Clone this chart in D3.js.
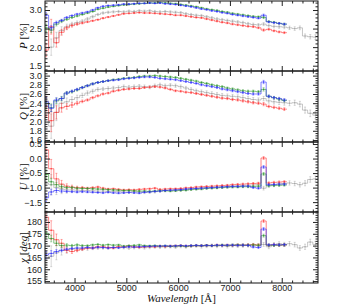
<!DOCTYPE html>
<html>
<head>
<meta charset="utf-8">
<script src="https://cdn.jsdelivr.net/npm/d3@7"></script>
<style>
  body { margin: 0; background: #fff; }
  #svg-container { width: 354px; height: 307px; }
  svg { display: block; font-family: "DejaVu Sans", sans-serif; }
  .tick text { font-size: 9px; fill: #222; }
  .tick line { stroke: #222; }
  .lbl { font-family: "Liberation Serif", serif; font-size: 11px; fill: #111; }
</style>
</head>
<body>
<div id="svg-container"></div>
<script>
////////////////////////////////////////////////////////////////////
////////////////////////////  Data  ////////////////////////////////
// bin centres [Å], 100 Å bins
const waveGray = [3450, 3550, 3650, 3750, 3850, 3950, 4050, 4150, 4250, 4350,
  4450, 4550, 4650, 4750, 4850, 4950, 5050, 5150, 5250, 5350,
  5450, 5550, 5650, 5750, 5850, 5950, 6050, 6150, 6250, 6350,
  6450, 6550, 6650, 6750, 6850, 6950, 7050, 7150, 7250, 7350,
  7450, 7550, 7650, 7750, 7850, 7950, 8050, 8150, 8250, 8350,
  8450, 8550, 8650];
const waveColor = waveGray.slice(0, 47);

// P [%]
const pBlue = [2.86, 2.52, 2.66, 2.72, 2.80, 2.85, 2.89, 2.92, 2.95, 3.00,
  3.06, 3.10, 3.12, 3.13, 3.14, 3.16, 3.16, 3.17, 3.18, 3.18,
  3.19, 3.18, 3.19, 3.17, 3.16, 3.15, 3.13, 3.11, 3.09, 3.06,
  3.03, 3.01, 2.98, 2.96, 2.93, 2.91, 2.88, 2.86, 2.84, 2.82,
  2.80, 2.78, 2.86, 2.68, 2.66, 2.64, 2.62];
const pGreen = [2.52, 2.46, 2.62, 2.70, 2.75, 2.80, 2.84, 2.88, 2.92, 2.96,
  3.02, 3.05, 3.08, 3.10, 3.12, 3.14, 3.15, 3.16, 3.17, 3.18,
  3.19, 3.19, 3.20, 3.19, 3.18, 3.17, 3.15, 3.13, 3.11, 3.09,
  3.06, 3.03, 3.01, 2.99, 2.96, 2.94, 2.91, 2.89, 2.87, 2.85,
  2.83, 2.82, 2.80, 2.69, 2.67, 2.64, 2.62];
const pRed = [1.92, 2.55, 2.12, 2.40, 2.52, 2.58, 2.62, 2.65, 2.68, 2.71,
  2.74, 2.78, 2.81, 2.84, 2.87, 2.90, 2.91, 2.92, 2.93, 2.92,
  2.92, 2.91, 2.90, 2.89, 2.88, 2.86, 2.86, 2.84, 2.82, 2.80,
  2.79, 2.76, 2.73, 2.70, 2.67, 2.65, 2.62, 2.60, 2.58, 2.56,
  2.55, 2.52, 2.46, 2.48, 2.44, 2.41, 2.39];
const pGray = [2.35, 2.00, 2.25, 2.45, 2.55, 2.62, 2.66, 2.70, 2.76, 2.82,
  2.88, 2.92, 2.94, 2.95, 2.96, 2.95, 2.97, 2.96, 2.98, 2.97,
  2.98, 2.96, 2.95, 2.96, 2.95, 2.94, 2.93, 2.90, 2.88, 2.86,
  2.85, 2.82, 2.79, 2.76, 2.74, 2.72, 2.70, 2.68, 2.66, 2.63,
  2.61, 2.60, 2.62, 2.58, 2.56, 2.55, 2.54, 2.52, 2.50, 2.52,
  2.30, 2.28, 2.27];

// Q [%]
const qBlue = [2.43, 2.29, 2.47, 2.50, 2.62, 2.66, 2.70, 2.74, 2.78, 2.82,
  2.85, 2.87, 2.89, 2.90, 2.91, 2.93, 2.94, 2.95, 2.96, 2.97,
  2.97, 2.96, 2.94, 2.93, 2.92, 2.91, 2.89, 2.87, 2.85, 2.83,
  2.80, 2.78, 2.76, 2.74, 2.71, 2.69, 2.67, 2.65, 2.63, 2.61,
  2.60, 2.60, 2.86, 2.55, 2.52, 2.50, 2.47];
const qGreen = [2.40, 2.30, 2.45, 2.50, 2.62, 2.65, 2.69, 2.74, 2.78, 2.82,
  2.85, 2.87, 2.89, 2.91, 2.92, 2.94, 2.95, 2.96, 2.98, 2.99,
  2.99, 3.00, 2.99, 2.98, 2.97, 2.96, 2.94, 2.92, 2.90, 2.88,
  2.85, 2.83, 2.80, 2.78, 2.76, 2.73, 2.71, 2.69, 2.67, 2.66,
  2.66, 2.65, 2.70, 2.55, 2.52, 2.49, 2.46];
const qRed = [2.33, 2.02, 2.20, 2.30, 2.33, 2.36, 2.40, 2.44, 2.47, 2.52,
  2.56, 2.60, 2.62, 2.66, 2.68, 2.70, 2.71, 2.72, 2.72, 2.74,
  2.75, 2.76, 2.75, 2.73, 2.70, 2.67, 2.66, 2.64, 2.63, 2.61,
  2.59, 2.57, 2.55, 2.53, 2.51, 2.50, 2.48, 2.47, 2.45, 2.43,
  2.41, 2.40, 2.38, 2.33, 2.31, 2.29, 2.27];
const qGray = [2.45, 1.90, 2.20, 2.40, 2.43, 2.48, 2.52, 2.57, 2.62, 2.66,
  2.70, 2.71, 2.72, 2.73, 2.74, 2.76, 2.75, 2.76, 2.77, 2.76,
  2.75, 2.78, 2.80, 2.78, 2.79, 2.78, 2.76, 2.73, 2.70, 2.67,
  2.65, 2.63, 2.61, 2.59, 2.57, 2.56, 2.55, 2.54, 2.52, 2.50,
  2.48, 2.47, 2.50, 2.45, 2.43, 2.42, 2.41, 2.40, 2.41, 2.38,
  2.25, 2.18, 2.14];

// U [%]
const uBlue = [-1.35, -1.15, -1.10, -1.12, -1.13, -1.14, -1.15, -1.14, -1.15, -1.16,
  -1.17, -1.18, -1.16, -1.18, -1.19, -1.18, -1.17, -1.18, -1.19, -1.16,
  -1.15, -1.13, -1.12, -1.10, -1.09, -1.08, -1.07, -1.05, -1.04, -1.03,
  -1.02, -1.01, -1.00, -0.99, -0.98, -0.97, -0.96, -0.96, -0.95, -0.95,
  -1.00, -1.02, -0.29, -0.90, -0.89, -0.88, -0.88];
const uGreen = [-0.55, -0.80, -0.90, -0.97, -1.00, -1.00, -1.02, -1.03, -1.03, -1.04,
  -1.05, -1.06, -1.07, -1.08, -1.09, -1.10, -1.10, -1.11, -1.12, -1.12,
  -1.13, -1.12, -1.11, -1.11, -1.12, -1.11, -1.10, -1.09, -1.07, -1.06,
  -1.05, -1.03, -1.02, -1.01, -1.00, -0.99, -0.98, -0.98, -0.97, -0.97,
  -0.96, -0.95, -0.53, -0.94, -0.93, -0.92, -0.91];
const uRed = [0.30, -0.35, -0.70, -0.88, -0.95, -0.98, -1.00, -1.00, -1.02, -1.00,
  -0.98, -1.02, -1.05, -1.04, -1.06, -1.08, -1.07, -1.08, -1.06, -1.05,
  -1.04, -1.02, -1.06, -1.05, -1.04, -1.04, -1.03, -1.01, -1.00, -0.98,
  -0.97, -0.96, -0.95, -0.94, -0.93, -0.92, -0.90, -0.89, -0.88, -0.87,
  -0.86, -0.85, 0.02, -0.84, -0.82, -0.81, -0.80];
const uGray = [-0.85, -0.90, -1.00, -1.05, -1.08, -1.08, -1.09, -1.10, -1.10, -1.11,
  -1.12, -1.12, -1.13, -1.13, -1.14, -1.15, -1.15, -1.14, -1.15, -1.16,
  -1.15, -1.14, -1.12, -1.10, -1.09, -1.08, -1.07, -1.06, -1.04, -1.03,
  -1.01, -1.00, -0.99, -0.98, -0.97, -0.96, -0.95, -0.94, -0.93, -0.92,
  -0.91, -0.90, -1.02, -0.92, -0.90, -0.88, -0.86, -0.84, -0.86, -0.90,
  -0.85, -0.72, -0.70];

// chi [deg]
const chiBlue = [166.0, 166.7, 167.5, 168.0, 168.5, 168.8, 169.0, 169.0, 169.2, 169.0,
  169.3, 169.2, 169.0, 169.2, 169.1, 169.3, 169.5, 169.4, 169.5, 169.6,
  169.7, 169.8, 169.8, 169.9, 169.8, 169.9, 170.0, 169.9, 170.0, 170.1,
  170.0, 170.1, 170.0, 170.2, 170.1, 170.2, 170.2, 170.1, 170.2, 170.1,
  169.4, 169.2, 177.0, 170.3, 170.4, 170.3, 170.4];
const chiGreen = [175.2, 173.0, 171.0, 170.0, 170.2, 170.0, 170.3, 170.0, 170.0, 170.3,
  170.5, 170.2, 170.4, 170.2, 170.3, 169.8, 170.0, 170.1, 170.3, 170.0,
  169.9, 170.0, 169.8, 169.9, 169.7, 169.8, 169.9, 169.7, 169.9, 170.0,
  170.0, 170.1, 170.0, 170.1, 170.2, 170.1, 170.2, 170.3, 170.2, 170.2,
  170.3, 170.2, 174.2, 170.2, 170.1, 170.2, 170.3];
const chiRed = [182.0, 176.5, 172.5, 171.0, 168.0, 167.5, 168.0, 168.5, 169.0, 169.0,
  169.5, 169.5, 169.2, 169.0, 169.5, 169.5, 169.8, 169.5, 169.3, 169.5,
  169.6, 169.5, 169.8, 169.6, 169.8, 169.9, 170.0, 169.8, 169.9, 170.0,
  170.0, 170.1, 170.0, 170.2, 170.1, 170.2, 170.1, 170.3, 170.2, 170.3,
  170.4, 170.3, 180.4, 170.2, 170.3, 170.2, 170.3];
const chiGray = [164.5, 165.5, 167.0, 168.0, 168.2, 168.5, 168.6, 168.7, 168.8, 169.0,
  169.0, 169.1, 169.0, 169.2, 169.3, 169.2, 169.0, 169.2, 169.3, 169.1,
  169.3, 169.5, 169.4, 169.5, 169.6, 169.4, 169.7, 169.5, 169.8, 169.9,
  169.6, 169.8, 170.0, 169.8, 170.0, 169.7, 170.0, 169.9, 170.0, 170.1,
  170.2, 170.0, 170.5, 169.5, 170.5, 170.8, 170.5, 170.8, 170.4, 169.0,
  169.5, 171.5, 170.5];

// 1-sigma errors [%] per bin (scaled per panel below)
const errBlue = [0.08, 0.06, 0.04, 0.03, 0.025, 0.02, 0.02, 0.02, 0.018, 0.018,
  0.016, 0.016, 0.015, 0.015, 0.015, 0.015, 0.015, 0.015, 0.015, 0.015,
  0.015, 0.015, 0.015, 0.015, 0.015, 0.016, 0.016, 0.016, 0.016, 0.016,
  0.017, 0.017, 0.017, 0.018, 0.018, 0.018, 0.019, 0.019, 0.02, 0.02,
  0.02, 0.021, 0.03, 0.022, 0.022, 0.023, 0.024];
const errGreen = [0.10, 0.07, 0.05, 0.04, 0.03, 0.025, 0.022, 0.02, 0.018, 0.018,
  0.016, 0.016, 0.015, 0.015, 0.015, 0.015, 0.015, 0.015, 0.015, 0.015,
  0.015, 0.015, 0.015, 0.015, 0.015, 0.016, 0.016, 0.016, 0.016, 0.016,
  0.017, 0.017, 0.017, 0.018, 0.018, 0.018, 0.019, 0.019, 0.02, 0.02,
  0.02, 0.021, 0.03, 0.022, 0.022, 0.023, 0.024];
const errRed = [0.18, 0.20, 0.12, 0.08, 0.05, 0.04, 0.03, 0.025, 0.02, 0.02,
  0.018, 0.018, 0.016, 0.016, 0.016, 0.016, 0.016, 0.016, 0.016, 0.016,
  0.016, 0.016, 0.016, 0.016, 0.016, 0.017, 0.017, 0.017, 0.017, 0.017,
  0.018, 0.018, 0.018, 0.019, 0.019, 0.019, 0.02, 0.02, 0.021, 0.021,
  0.022, 0.022, 0.03, 0.023, 0.023, 0.024, 0.025];
const errGray = [0.14, 0.22, 0.15, 0.10, 0.07, 0.05, 0.045, 0.04, 0.04, 0.035,
  0.03, 0.03, 0.03, 0.03, 0.03, 0.03, 0.03, 0.03, 0.03, 0.03,
  0.03, 0.03, 0.03, 0.03, 0.03, 0.03, 0.03, 0.03, 0.03, 0.03,
  0.032, 0.032, 0.033, 0.033, 0.034, 0.034, 0.035, 0.035, 0.036, 0.036,
  0.037, 0.037, 0.04, 0.04, 0.04, 0.042, 0.044, 0.046, 0.048, 0.05,
  0.055, 0.06, 0.065];

// axis ticks
const xMajor = [4000, 5000, 6000, 7000, 8000];
const pTicks = [1.5, 2.0, 2.5, 3.0];
const qTicks = [1.6, 1.8, 2.0, 2.2, 2.4, 2.6, 2.8, 3.0];
const uTicks = [-1.5, -1.0, -0.5, 0.0, 0.5];
const chiTicks = [155, 160, 165, 170, 175, 180];

////////////////////////////////////////////////////////////////////
////////////////////////////  Init  ////////////////////////////////
const width = 354;
const height = 307;
const margin = { top: 1, right: 36, bottom: 24, left: 45 };

const svg = d3.select("#svg-container").append("svg")
  .attr("width", width)
  .attr("height", height);

const xScale = d3.scaleLinear()
  .domain([3430, 8700])
  .range([margin.left, width - margin.right]);

const binHalf = 50;
const colors = { gray: "#a0a0a0", red: "#ff3030", green: "#2a962a", blue: "#2a2aff" };

const panels = [
  { key: "P", top: 1, bottom: 71, domain: [1.357, 3.243], ticks: pTicks, minor: 0.1, fmt: ".1f", errScale: 1,
    label: [["P", true], [" [%]", false]],
    series: [["gray", pGray, errGray], ["red", pRed, errRed], ["green", pGreen, errGreen], ["blue", pBlue, errBlue]] },
  { key: "Q", top: 71, bottom: 142, domain: [1.556, 3.10], ticks: qTicks, minor: 0.05, fmt: ".1f", errScale: 1.2,
    label: [["Q", true], [" [%]", false]],
    series: [["gray", qGray, errGray], ["red", qRed, errRed], ["green", qGreen, errGreen], ["blue", qBlue, errBlue]] },
  { key: "U", top: 142, bottom: 212, domain: [-1.84, 0.57], ticks: uTicks, minor: 0.1, fmt: ".1f", errScale: 1.6,
    label: [["U", true], [" [%]", false]],
    series: [["gray", uGray, errGray], ["red", uRed, errRed], ["green", uGreen, errGreen], ["blue", uBlue, errBlue]] },
  { key: "chi", top: 212, bottom: 283, domain: [154.2, 184.2], ticks: chiTicks, minor: 1, fmt: "d", errScale: 20,
    label: [["χ", true], [" [", false], ["deg", true], ["]", false]],
    series: [["gray", chiGray, errGray], ["red", chiRed, errRed], ["green", chiGreen, errGreen], ["blue", chiBlue, errBlue]] }
];

const xMinor = d3.range(3600, 8700, 200).filter((d) => d % 1000 !== 0);

const stepLine = d3.line()
  .x((d) => xScale(d[0]))
  .y((d) => d[1])
  .curve(d3.curveStepAfter);

////////////////////////////////////////////////////////////////////
////////////////////////////  Panels  //////////////////////////////
panels.forEach((p, pi) => {
  const yScale = d3.scaleLinear().domain(p.domain).range([p.bottom, p.top]);
  const g = svg.append("g").attr("class", "panel-" + p.key);

  g.append("clipPath").attr("id", "clip-" + p.key)
    .append("rect")
    .attr("x", margin.left).attr("y", p.top)
    .attr("width", xScale.range()[1] - margin.left)
    .attr("height", p.bottom - p.top);

  const plot = g.append("g").attr("clip-path", `url(#clip-${p.key})`);

  p.series.forEach(([c, vals, errs]) => {
    const wave = vals.length === waveGray.length ? waveGray : waveColor;
    const pts = vals.map((v, i) => [wave[i] - binHalf, yScale(v)]);
    pts.push([wave[wave.length - 1] + binHalf, yScale(vals[vals.length - 1])]);

    const sg = plot.append("g").attr("class", "series-" + c);

    sg.append("path")
      .attr("d", stepLine(pts))
      .attr("fill", "none")
      .attr("stroke", colors[c])
      .attr("stroke-opacity", 0.8)
      .attr("stroke-width", 0.75);

    const bars = sg.selectAll(".err")
      .data(vals.map((v, i) => ({ x: wave[i], v: v, e: errs[i] * p.errScale })))
      .enter().append("g").attr("class", "err")
      .attr("stroke", colors[c])
      .attr("stroke-opacity", 0.7)
      .attr("stroke-width", 0.6);

    bars.append("line")
      .attr("x1", (d) => xScale(d.x)).attr("x2", (d) => xScale(d.x))
      .attr("y1", (d) => yScale(d.v - d.e)).attr("y2", (d) => yScale(d.v + d.e));
    bars.append("line")
      .attr("x1", (d) => xScale(d.x) - 1).attr("x2", (d) => xScale(d.x) + 1)
      .attr("y1", (d) => yScale(d.v - d.e)).attr("y2", (d) => yScale(d.v - d.e));
    bars.append("line")
      .attr("x1", (d) => xScale(d.x) - 1).attr("x2", (d) => xScale(d.x) + 1)
      .attr("y1", (d) => yScale(d.v + d.e)).attr("y2", (d) => yScale(d.v + d.e));
    bars.append("circle")
      .attr("cx", (d) => xScale(d.x)).attr("cy", (d) => yScale(d.v))
      .attr("r", 0.7)
      .attr("fill", colors[c])
      .attr("fill-opacity", 0.8)
      .attr("stroke", "none");
  });

  // frame
  g.append("rect")
    .attr("x", margin.left).attr("y", p.top)
    .attr("width", xScale.range()[1] - margin.left)
    .attr("height", p.bottom - p.top)
    .attr("fill", "none")
    .attr("stroke", "#111")
    .attr("stroke-width", 1);

  // y minor ticks
  const yMinor = d3.range(Math.ceil(p.domain[0] / p.minor) * p.minor, p.domain[1], p.minor)
    .filter((d) => !p.ticks.some((t) => Math.abs(t - d) < 1e-6));

  const isLast = pi === panels.length - 1;

  // x ticks (inward, bottom + top)
  g.append("g").attr("transform", `translate(0,${p.bottom})`)
    .call(d3.axisBottom(xScale).tickValues(xMajor).tickSize(-5).tickPadding(2)
      .tickFormat(isLast ? d3.format("d") : ""))
    .call((a) => a.select(".domain").remove());
  g.append("g").attr("transform", `translate(0,${p.bottom})`)
    .call(d3.axisBottom(xScale).tickValues(xMinor).tickSize(-2.5).tickFormat(""))
    .call((a) => a.select(".domain").remove());
  g.append("g").attr("transform", `translate(0,${p.top})`)
    .call(d3.axisTop(xScale).tickValues(xMajor).tickSize(-5).tickFormat(""))
    .call((a) => a.select(".domain").remove());
  g.append("g").attr("transform", `translate(0,${p.top})`)
    .call(d3.axisTop(xScale).tickValues(xMinor).tickSize(-2.5).tickFormat(""))
    .call((a) => a.select(".domain").remove());

  // y ticks (inward, left + right)
  g.append("g").attr("transform", `translate(${margin.left},0)`)
    .call(d3.axisLeft(yScale).tickValues(p.ticks).tickSize(-5).tickPadding(3).tickFormat(d3.format(p.fmt)))
    .call((a) => a.select(".domain").remove());
  g.append("g").attr("transform", `translate(${margin.left},0)`)
    .call(d3.axisLeft(yScale).tickValues(yMinor).tickSize(-2.5).tickFormat(""))
    .call((a) => a.select(".domain").remove());
  g.append("g").attr("transform", `translate(${xScale.range()[1]},0)`)
    .call(d3.axisRight(yScale).tickValues(p.ticks).tickSize(-5).tickFormat(""))
    .call((a) => a.select(".domain").remove());
  g.append("g").attr("transform", `translate(${xScale.range()[1]},0)`)
    .call(d3.axisRight(yScale).tickValues(yMinor).tickSize(-2.5).tickFormat(""))
    .call((a) => a.select(".domain").remove());

  // y label
  const lbl = g.append("text")
    .attr("class", "lbl")
    .attr("text-anchor", "middle")
    .attr("transform", `translate(27,${(p.top + p.bottom) / 2}) rotate(-90)`);
  p.label.forEach(([t, it]) => {
    lbl.append("tspan").text(t).attr("font-style", it ? "italic" : "normal");
  });
});

// x label
const xl = svg.append("text")
  .attr("class", "lbl")
  .attr("text-anchor", "middle")
  .attr("x", (margin.left + xScale.range()[1]) / 2)
  .attr("y", 302);
xl.append("tspan").text("Wavelength").attr("font-style", "italic");
xl.append("tspan").text(" [Å]");
</script>
</body>
</html>
